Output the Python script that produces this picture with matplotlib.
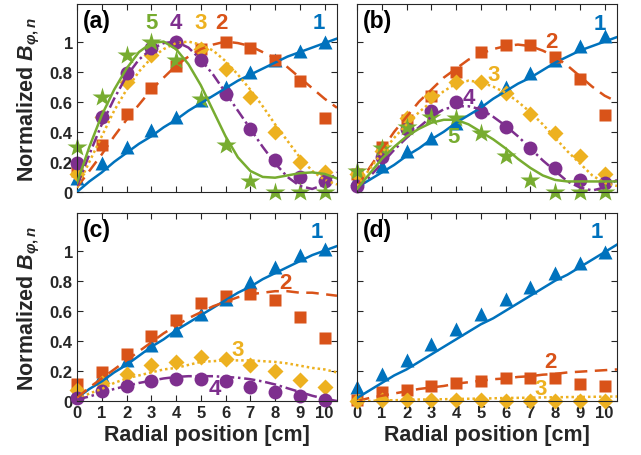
import numpy as np
import matplotlib
matplotlib.use('Agg')
import matplotlib.pyplot as plt

plt.rcParams['font.family'] = ['Liberation Sans', 'DejaVu Sans']
plt.rcParams['font.weight'] = 'bold'
plt.rcParams['mathtext.fontset'] = 'custom'
plt.rcParams['mathtext.it'] = 'Liberation Sans:italic:bold'
plt.rcParams['mathtext.rm'] = 'Liberation Sans:bold'
plt.rcParams['mathtext.bf'] = 'Liberation Sans:bold'

# measurement positions [cm] and fitted-curve positions [cm]
x_pts = [0, 1, 2, 3, 4, 5, 6, 7, 8, 9, 10]
x_fit = [0, 0.5, 1, 1.5, 2, 2.5, 3, 3.5, 4, 4.5, 5, 5.5, 6, 6.5, 7, 7.5, 8,
         8.5, 9, 9.5, 10, 10.5]

# panel (a)
pts_a = {
    1: [0.09, 0.19, 0.30, 0.41, 0.50, 0.61, 0.70, 0.80, 0.88, 0.94, 1.00],
    2: [0.14, 0.31, 0.52, 0.69, 0.84, 0.95, 1.00, 0.96, 0.88, 0.74, 0.49],
    3: [0.12, 0.50, 0.73, 0.91, 0.99, 0.95, 0.82, 0.63, 0.40, 0.20, 0.13],
    4: [0.19, 0.50, 0.79, 0.96, 1.00, 0.88, 0.65, 0.42, 0.21, 0.10, 0.07],
    5: [0.30, 0.63, 0.91, 1.00, 0.88, 0.62, 0.31, 0.07, 0.00, 0.00, 0.00],
}
fit_a = {
    1: [0.00, 0.07, 0.13, 0.20, 0.26, 0.32, 0.37, 0.43, 0.48, 0.54, 0.59,
        0.64, 0.69, 0.74, 0.78, 0.82, 0.86, 0.90, 0.93, 0.96, 0.99, 1.02],
    2: [0.03, 0.14, 0.25, 0.37, 0.48, 0.58, 0.68, 0.76, 0.84, 0.90, 0.95,
        0.98, 1.00, 0.99, 0.97, 0.93, 0.89, 0.83, 0.76, 0.69, 0.62, 0.56],
    3: [0.03, 0.20, 0.37, 0.54, 0.68, 0.80, 0.89, 0.95, 0.99, 1.00, 0.98,
        0.94, 0.87, 0.78, 0.68, 0.57, 0.45, 0.34, 0.23, 0.14, 0.08, 0.05],
    4: [0.04, 0.25, 0.45, 0.62, 0.77, 0.88, 0.95, 0.99, 1.00, 0.96, 0.88,
        0.78, 0.66, 0.54, 0.42, 0.30, 0.19, 0.10, 0.04, 0.02, 0.05, 0.13],
    5: [0.06, 0.30, 0.51, 0.68, 0.82, 0.93, 0.99, 1.00, 0.95, 0.85, 0.71,
        0.54, 0.37, 0.23, 0.14, 0.10, 0.095, 0.11, 0.125, 0.13, 0.12, 0.09],
}

# panel (b)
pts_b = {
    1: [0.09, 0.17, 0.27, 0.36, 0.46, 0.57, 0.70, 0.79, 0.88, 0.97, 1.04],
    2: [0.12, 0.30, 0.48, 0.64, 0.80, 0.93, 0.98, 0.98, 0.90, 0.75, 0.51],
    3: [0.12, 0.27, 0.49, 0.64, 0.73, 0.73, 0.66, 0.52, 0.39, 0.24, 0.12],
    4: [0.04, 0.23, 0.42, 0.54, 0.60, 0.53, 0.43, 0.29, 0.16, 0.08, 0.06],
    5: [0.14, 0.29, 0.43, 0.50, 0.49, 0.39, 0.24, 0.08, 0.00, 0.00, 0.00],
}
fit_b = {
    1: [0.03, 0.08, 0.13, 0.18, 0.24, 0.29, 0.35, 0.40, 0.46, 0.51, 0.56,
        0.62, 0.67, 0.72, 0.76, 0.81, 0.86, 0.90, 0.94, 0.97, 1.00, 1.03],
    2: [0.03, 0.16, 0.28, 0.40, 0.50, 0.60, 0.68, 0.76, 0.82, 0.88, 0.92,
        0.95, 0.97, 0.98, 0.97, 0.94, 0.90, 0.84, 0.77, 0.70, 0.64, 0.60],
    3: [0.04, 0.15, 0.26, 0.36, 0.45, 0.53, 0.60, 0.67, 0.72, 0.74, 0.73,
        0.70, 0.66, 0.60, 0.53, 0.45, 0.36, 0.27, 0.19, 0.11, 0.06, 0.04],
    4: [0.02, 0.10, 0.19, 0.28, 0.36, 0.43, 0.50, 0.55, 0.57, 0.57, 0.55,
        0.50, 0.44, 0.37, 0.29, 0.21, 0.14, 0.07, 0.03, 0.01, 0.03, 0.08],
    5: [0.02, 0.12, 0.22, 0.30, 0.37, 0.42, 0.46, 0.48, 0.48, 0.45, 0.40,
        0.35, 0.29, 0.22, 0.16, 0.11, 0.08, 0.07, 0.07, 0.07, 0.07, 0.07],
}

# panel (c)
pts_c = {
    1: [0.07, 0.17, 0.27, 0.37, 0.47, 0.58, 0.68, 0.79, 0.89, 0.97, 1.01],
    2: [0.11, 0.19, 0.31, 0.43, 0.54, 0.65, 0.70, 0.71, 0.67, 0.56, 0.42],
    3: [0.07, 0.12, 0.18, 0.24, 0.26, 0.29, 0.28, 0.24, 0.20, 0.14, 0.095],
    4: [0.02, 0.065, 0.10, 0.135, 0.147, 0.147, 0.13, 0.09, 0.06, 0.03, 0.007],
}
fit_c = {
    1: [0.02, 0.08, 0.13, 0.19, 0.24, 0.30, 0.36, 0.41, 0.47, 0.52, 0.57,
        0.62, 0.67, 0.72, 0.76, 0.81, 0.85, 0.89, 0.93, 0.97, 1.00, 1.03],
    2: [0.02, 0.09, 0.15, 0.21, 0.27, 0.33, 0.39, 0.45, 0.50, 0.55, 0.59,
        0.63, 0.66, 0.69, 0.71, 0.72, 0.73, 0.73, 0.72, 0.72, 0.71, 0.70],
    3: [0.01, 0.05, 0.08, 0.12, 0.15, 0.17, 0.19, 0.21, 0.22, 0.24, 0.26,
        0.265, 0.27, 0.27, 0.27, 0.265, 0.26, 0.25, 0.235, 0.22, 0.21, 0.19],
    4: [0.01, 0.03, 0.055, 0.08, 0.10, 0.12, 0.135, 0.15, 0.16, 0.165, 0.165,
        0.165, 0.16, 0.155, 0.145, 0.13, 0.11, 0.085, 0.06, 0.035, 0.015, 0.0],
}

# panel (d)
pts_d = {
    1: [0.09, 0.18, 0.27, 0.38, 0.48, 0.58, 0.68, 0.76, 0.85, 0.92, 0.99],
    2: [0.01, 0.06, 0.07, 0.10, 0.12, 0.135, 0.15, 0.155, 0.15, 0.11, 0.10],
    3: [0.0, 0.01, 0.01, 0.01, 0.01, 0.01, 0.0, 0.0, 0.0, 0.0, 0.0],
}
fit_d = {
    1: [0.02, 0.07, 0.12, 0.17, 0.21, 0.26, 0.31, 0.36, 0.41, 0.46, 0.51,
        0.55, 0.60, 0.65, 0.70, 0.75, 0.80, 0.84, 0.89, 0.94, 0.99, 1.04],
    2: [0.0, 0.02, 0.035, 0.05, 0.065, 0.08, 0.09, 0.10, 0.115, 0.125, 0.135,
        0.145, 0.15, 0.16, 0.165, 0.175, 0.18, 0.19, 0.195, 0.20, 0.205, 0.21],
    3: [0.0, 0.0, 0.005, 0.005, 0.008, 0.01, 0.01, 0.012, 0.013, 0.015, 0.016,
        0.018, 0.02, 0.021, 0.022, 0.024, 0.025, 0.026, 0.027, 0.028, 0.029, 0.03],
}

# mode label positions (x, y) per panel
labels_a = {1: (9.75, 1.13), 2: (5.85, 1.13), 3: (5.0, 1.13), 4: (4.0, 1.13), 5: (3.0, 1.13)}
labels_b = {1: (9.8, 1.12), 2: (7.85, 1.0), 3: (5.5, 0.78), 4: (4.5, 0.63), 5: (3.9, 0.37)}
labels_c = {1: (9.7, 1.13), 2: (8.4, 0.79), 3: (6.5, 0.34), 4: (5.56, 0.08)}
labels_d = {1: (9.7, 1.13), 2: (7.8, 0.26), 3: (7.4, 0.085)}

colors = {1: '#0072BD', 2: '#D95319', 3: '#EDB120', 4: '#7E2F8E', 5: '#77AC30'}
markers = {1: ('^', 10.5), 2: ('s', 8), 3: ('D', 8), 4: ('o', 10), 5: ('*', 15)}
styles = {1: '-', 2: (0, (5, 3)), 3: (0, (1, 1.2)), 4: (0, (4.5, 1.5, 1, 1.5)), 5: '-'}

fig = plt.figure(figsize=(6.41, 4.56), dpi=100)
w, h = 0.4056, 0.4123
pos = {
    'a': [0.1201, 0.5768, w, h],
    'b': [0.5570, 0.5768, w, h],
    'c': [0.1201, 0.1184, w, h],
    'd': [0.5570, 0.1184, w, h],
}
panels = [('a', pts_a, fit_a, labels_a), ('b', pts_b, fit_b, labels_b),
          ('c', pts_c, fit_c, labels_c), ('d', pts_d, fit_d, labels_d)]

for name, pts, fit, labs in panels:
    ax = fig.add_axes(pos[name])
    for k in pts:
        m, ms = markers[k]
        ax.plot(x_pts, pts[k], linestyle='none', marker=m, ms=ms,
                color=colors[k], mec='none', clip_on=False, zorder=2)
    for k in fit:
        ax.plot(x_fit, fit[k], linestyle=styles[k], color=colors[k], lw=1.8, zorder=3)
    for k, (tx, ty) in labs.items():
        ax.text(tx, ty, str(k), color=colors[k], fontsize=16, fontweight='bold',
                ha='center', va='center')
    ax.text(0.22, 1.14, '(%s)' % name, fontsize=16.5, fontweight='bold',
            ha='left', va='center', color='black')

    ax.set_xlim(0, 10.5)
    ax.set_ylim(0, 1.25)
    ax.set_xticks(range(0, 11))
    ax.set_yticks([0, 0.2, 0.4, 0.6, 0.8, 1])
    ax.tick_params(direction='in', top=True, right=True, length=4, width=0.8,
                   colors='#262626', labelsize=12, pad=3)
    for s in ax.spines.values():
        s.set_color('#262626')
        s.set_linewidth(0.8)
    ax.set_yticklabels(['0', '0.2', '0.4', '0.6', '0.8', '1'])
    for lab in ax.get_xticklabels() + ax.get_yticklabels():
        lab.set_fontweight('bold')

    if name in ('a', 'b'):
        ax.set_xticklabels([])
    else:
        ax.set_xlabel('Radial position [cm]', fontsize=15.5, fontweight='bold',
                      color='#262626', labelpad=3)
    if name in ('b', 'd'):
        ax.set_yticklabels([])
    else:
        ax.set_ylabel(r'Normalized $B_{\varphi,n}$', fontsize=15.5,
                      fontweight='bold', color='#262626')
        ax.yaxis.set_label_coords(-0.135, 0.5)

fig.savefig('out.png', dpi=100)
